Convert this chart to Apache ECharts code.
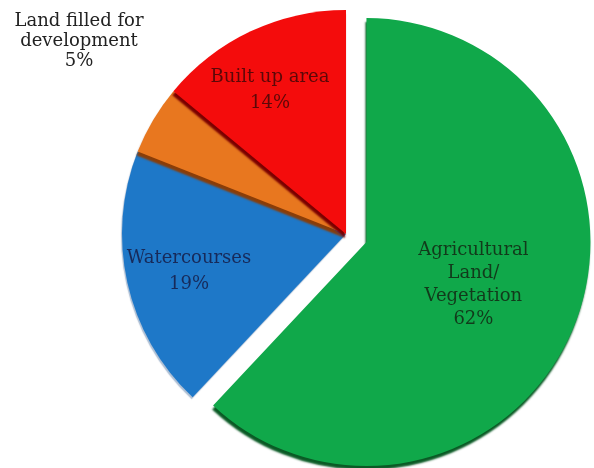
<!DOCTYPE html>
<html><head><meta charset="utf-8">
<script src="https://cdn.jsdelivr.net/npm/echarts@6/dist/echarts.min.js"></script>
<style>html,body{margin:0;padding:0;background:#fff}#c{width:594px;height:468px}</style>
</head><body><div id="c"></div>
<script>
const categories = ['Agricultural\nLand/\nVegetation', 'Watercourses', 'Land filled for\ndevelopment', 'Built up area'];
const values = [62, 19, 5, 14];
const colors = ['#10a84a', '#1e78c8', '#e8771f', '#f40c0c'];
const depthColors = ['#0a5a25', 'rgba(20,70,130,0.35)', '#8a3d08', '#7a0000'];
const labelColors = ['#123a1b', '#172a5a', '#222222', '#5c0808'];

const chart = echarts.init(document.getElementById('c'));
const labelSpots = [[472, 262], [189, 271], [79, 41], [270, 90]];
const data = categories.map((name, i) => ({
  name: name,
  value: values[i],
  selected: i === 0,
  itemStyle: {
    color: colors[i],
    shadowColor: depthColors[i],
    shadowOffsetX: -1,
    shadowOffsetY: i === 1 ? 2 : 4,
    shadowBlur: i === 1 ? 1 : 2
  },
  label: { color: labelColors[i], lineHeight: i === 0 ? 23 : (i === 2 ? 20 : 26) }
}));
chart.setOption({
  animation: false,
  backgroundColor: '#ffffff',
  series: [{
    type: 'pie',
    center: [346, 234],
    radius: 224,
    startAngle: 90,
    clockwise: true,
    selectedMode: 'single',
    selectedOffset: 22,
    avoidLabelOverlap: false,
    emphasis: { disabled: true },
    label: {
      show: true,
      position: 'inside',
      formatter: p => p.name + '\n' + p.value + '%',
      fontFamily: 'DejaVu Serif',
      fontSize: 18,
      align: 'center'
    },
    labelLine: { show: false },
    labelLayout: function (params) {
      const s = labelSpots[params.dataIndex];
      return { x: s[0], y: s[1], align: 'center', verticalAlign: 'middle' };
    },
    data: data
  }]
});
</script></body></html>
